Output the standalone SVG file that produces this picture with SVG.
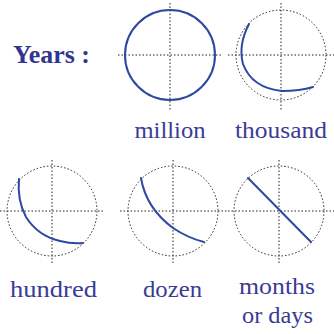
<svg xmlns="http://www.w3.org/2000/svg" width="334" height="334" viewBox="0 0 334 334">
<style>
.dot{fill:none;stroke:#222;stroke-width:1;stroke-dasharray:1.5 2}
.cur{fill:none;stroke:#2f47a0;stroke-width:2;stroke-linecap:round}
.lbl{font-family:"Liberation Serif",serif;font-size:23px;fill:#3a3c94;text-anchor:middle}
.ttl{font-family:"Liberation Serif",serif;font-size:26px;font-weight:bold;fill:#32358f}
</style>
<rect width="334" height="334" fill="#fff"/>
<text class="ttl" x="13" y="63" textLength="77" lengthAdjust="spacingAndGlyphs">Years :</text>
<g id="million">
<line class="dot" x1="118" y1="55" x2="222" y2="55"/>
<line class="dot" x1="170" y1="3" x2="170" y2="110"/>
<circle class="cur" cx="170" cy="55" r="45"/>
<text class="lbl" x="170" y="138" textLength="71" lengthAdjust="spacingAndGlyphs">million</text>
</g>
<g id="thousand">
<line class="dot" x1="228" y1="55" x2="334" y2="55"/>
<line class="dot" x1="281" y1="3" x2="281" y2="110"/>
<circle class="dot" cx="281" cy="55" r="45"/>
<path class="cur" d="M249,24 Q238,45 243,64 Q252,88 282,91 Q300,91 313,87"/>
<text class="lbl" x="281" y="138" textLength="92" lengthAdjust="spacingAndGlyphs">thousand</text>
</g>
<g id="hundred">
<line class="dot" x1="0" y1="211" x2="105" y2="211"/>
<line class="dot" x1="52" y1="160" x2="52" y2="265"/>
<circle class="dot" cx="52" cy="211" r="45"/>
<path class="cur" d="M19,179 Q17,200 26,217 Q38,236 60,241 Q72,244 83,243"/>
<text class="lbl" x="53.5" y="297" textLength="87" lengthAdjust="spacingAndGlyphs">hundred</text>
</g>
<g id="dozen">
<line class="dot" x1="120" y1="211" x2="228" y2="211"/>
<line class="dot" x1="173" y1="160" x2="173" y2="265"/>
<circle class="dot" cx="173" cy="211" r="45"/>
<path class="cur" d="M141,178 Q146,208 173,228 Q188,238 204,242"/>
<text class="lbl" x="172.5" y="297" textLength="59" lengthAdjust="spacingAndGlyphs">dozen</text>
</g>
<g id="months">
<line class="dot" x1="228" y1="211" x2="334" y2="211"/>
<line class="dot" x1="279" y1="160" x2="279" y2="265"/>
<circle class="dot" cx="279" cy="211" r="45"/>
<line class="cur" x1="248" y1="178" x2="311" y2="242"/>
<text class="lbl" x="277" y="294" textLength="76" lengthAdjust="spacingAndGlyphs">months</text>
<text class="lbl" x="277.5" y="323" textLength="71" lengthAdjust="spacingAndGlyphs">or days</text>
</g>
</svg>
